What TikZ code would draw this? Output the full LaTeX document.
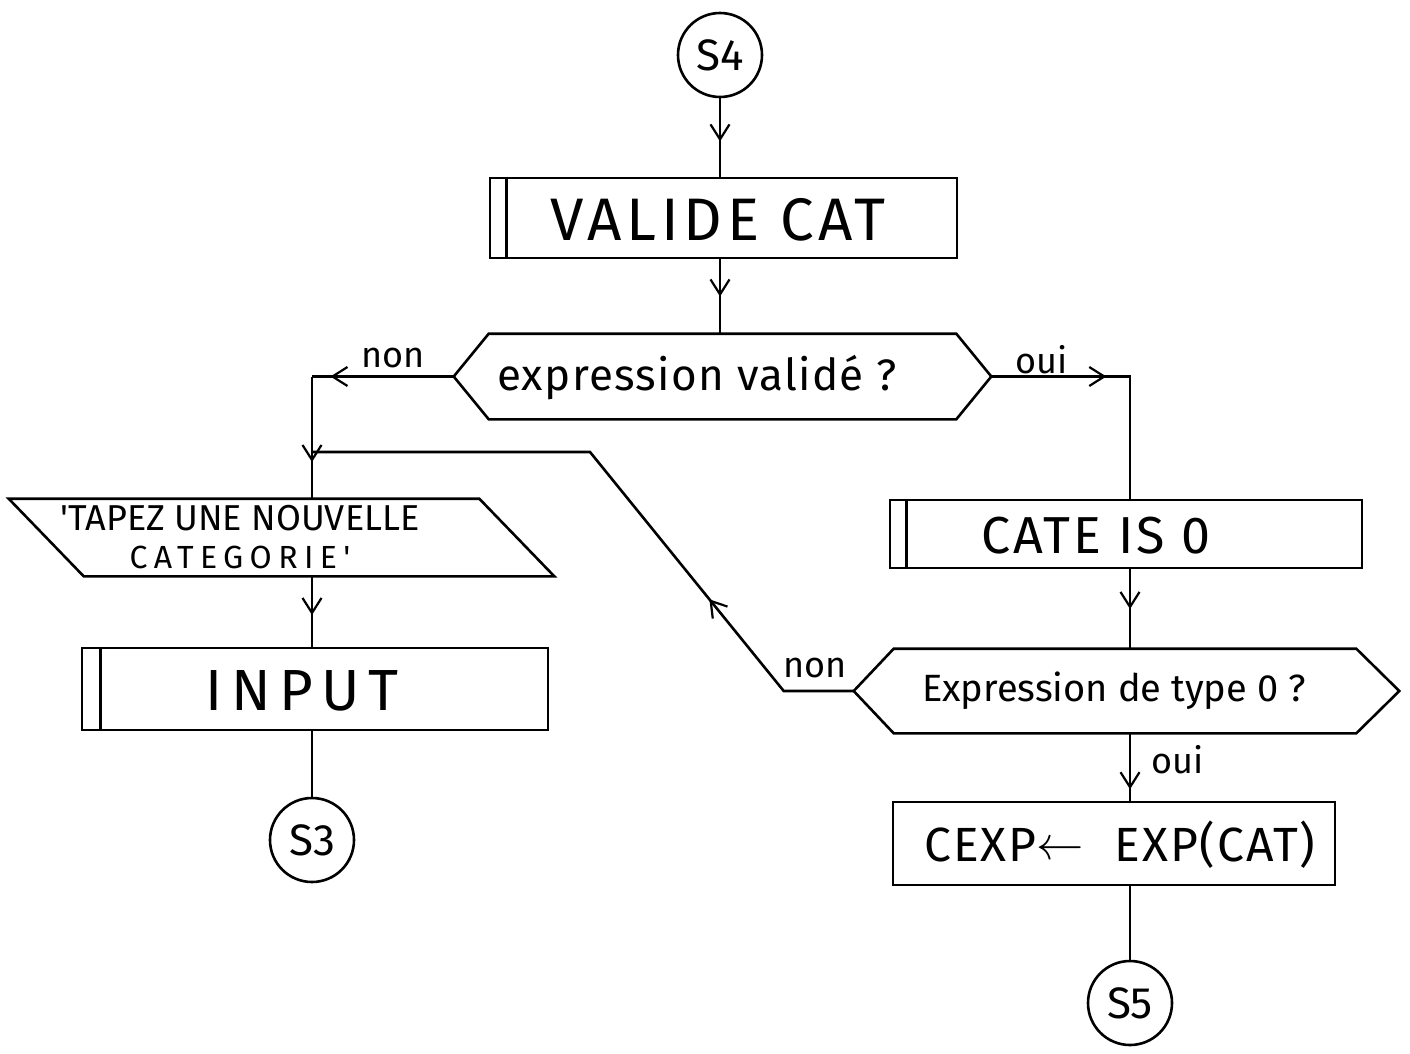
\documentclass[tikz,border=0pt]{standalone}
\usepackage{fontspec}
\setmainfont{Fira Sans}[Ligatures=TeXOff]
\usetikzlibrary{arrows.meta,decorations.markings}

\newcommand{\fsz}[1]{\fontsize{#1}{#1}\selectfont}
\newcommand{\spc}[1]{\addfontfeature{LetterSpace=#1}}

\begin{document}
\begin{tikzpicture}[x=1pt,y=-1pt,
  line width=2.6pt,
  box/.style={draw, rectangle, inner sep=0pt},
  frame/.style={rectangle, inner sep=0pt},
  txt/.style={inner sep=0pt, align=center},
  conn/.style={circle, draw, minimum size=84pt, inner sep=0pt, font=\fsz{44}},
  lbl/.style={inner sep=0pt, font=\fsz{36}},
  arrowat/.style={postaction={decorate},
    decoration={markings, mark=at position #1 with {\arrow{Straight Barb[length=15pt,width=19pt,line width=2.2pt]}}}}
]
\fill[white] (0,0) rectangle (1410,1054);
\useasboundingbox (0,0) rectangle (1410,1054);

% connectors (circles)
\node[conn] (s4) at (720,55) {S4};
\node[conn] (s3) at (312,840) {S3};
\node[conn] (s5) at (1130,1003) {S5};

% VALIDE CAT (predefined process)
\node[box, minimum width=467pt, minimum height=80pt] (valide) at (723.5,218) {};
\draw ([xshift=18pt]valide.north west) -- ([xshift=18pt]valide.south west);
\node[txt, font=\fsz{60}\spc{8}] (validetext) at (718,220) {VALIDE CAT};

% decision: expression valide ?
\node[frame, minimum width=465pt, minimum height=83pt] (q1) at (722.5,376.5) {};
\coordinate (q1w) at ([xshift=-35pt]q1.west);
\coordinate (q1e) at ([xshift=35pt]q1.east);
\draw (q1.north west) -- (q1.north east) -- (q1e) -- (q1.south east)
      -- (q1.south west) -- (q1w) -- cycle;
\node[txt, font=\fsz{44}\spc{3}] (q1text) at (697,378) {expression validé ?};

% output message (parallelogram)
\node[frame, minimum width=468pt, minimum height=75pt] (msg) at (281.5,537.5) {};
\draw ([xshift=-37.5pt]msg.north west) -- ([xshift=-37.5pt]msg.north east)
      -- ([xshift=37.5pt]msg.south east) -- ([xshift=37.5pt]msg.south west) -- cycle;
\node[txt, font=\fsz{36}] (msgtext) at (240,537)
  {'TAPEZ UNE NOUVELLE\\[2pt]{\fsz{32}\spc{20}CATEGORIE'}};

% INPUT (predefined process)
\node[box, minimum width=466pt, minimum height=82pt] (inp) at (315,689) {};
\draw ([xshift=20pt]inp.north west) -- ([xshift=20pt]inp.south west);
\node[txt, font=\fsz{58}\spc{15}] (inptext) at (302,691) {INPUT};

% CATE IS 0 (predefined process)
\node[box, minimum width=472pt, minimum height=68pt] (cate) at (1126,534) {};
\draw ([xshift=18pt]cate.north west) -- ([xshift=18pt]cate.south west);
\node[txt, font=\fsz{52}\spc{6}] (catetext) at (1096,536) {CATE IS 0};

% decision: expression de type 0 ?
\node[frame, minimum width=460pt, minimum height=82pt] (q2) at (1125,691) {};
\coordinate (q2w) at ([xshift=-40pt]q2.west);
\coordinate (q2e) at ([xshift=43pt]q2.east);
\draw (q2.north west) -- (q2.north east) -- (q2e) -- (q2.south east)
      -- (q2.south west) -- (q2w) -- cycle;
\node[txt, font=\fsz{38}] (q2text) at (1114,691) {Expression de type 0 ?};

% assignment
\node[box, minimum width=442pt, minimum height=83pt] (cexp) at (1114,843.5) {};
\node[txt, font=\fsz{48}\spc{4}] (cexptext) at (1120,845)
  {CEXP\raisebox{2pt}{\scalebox{1.9}{$\leftarrow$}}\,\, EXP(CAT)};

% main flow
\draw[arrowat=0.55] (s4.south) -- (s4.south |- valide.north);
\draw[arrowat=0.5] (valide.south -| s4) -- (q1.north -| s4);

% "non" branch
\coordinate (lc) at (q1w -| s3);
\draw[arrowat=0.87] (q1w) -- (lc);
\draw[arrowat=0.7] (lc) -- (msg.north -| s3);
\draw[arrowat=0.55] (msg.south -| s3) -- (inp.north -| s3);
\draw (inp.south -| s3) -- (s3.north);

% "oui" branch
\coordinate (rc) at (q1e -| s5);
\draw[arrowat=115pt] (q1e) -- (rc) -- (cate.north -| s5);
\draw[arrowat=0.5] (cate.south -| s5) -- (q2.north -| s5);
\draw[arrowat=0.83] (q2.south -| s5) -- (cexp.north -| s5);
\draw (cexp.south -| s5) -- (s5.north);

% loop back to the message
\coordinate (low) at ([xshift=-70pt]q2w);
\coordinate (bend) at (590,452);
\coordinate (j) at (bend -| s3);
\draw[arrowat=188pt] (q2w) -- (low) -- (bend) -- (j);

% branch labels
\node[lbl] (non1) at (393,358) {non};
\node[lbl] (oui1) at (1042,360) {oui};
\node[lbl] (non2) at (815,668) {non};
\node[lbl] (oui2) at (1178,760) {oui};
\end{tikzpicture}
\end{document}
